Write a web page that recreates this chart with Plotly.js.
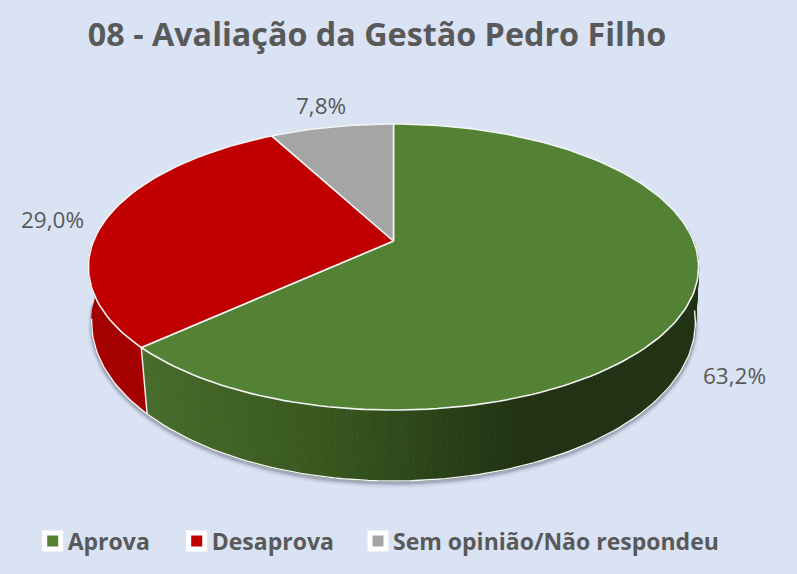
<!DOCTYPE html>
<html><head><meta charset="utf-8">
<script src="https://cdn.plot.ly/plotly-3.0.1.min.js"></script>
<style>html,body{margin:0;padding:0;background:#DAE3F3}</style></head>
<body><div id="chart" style="width:797px;height:574px"></div>
<script>
const categories = ['Aprova', 'Desaprova', 'Sem opinião/Não respondeu'];
const values = [63.2, 29.0, 7.8];
const colors = ['#548235', '#C00000', '#A5A5A5'];
const labelText = values.map(v => v.toFixed(1).replace('.', ',') + '%');

// Perspective disc: the projection of the pie's top and bottom rims
const cx = 393.5;
const topRim = {cy: 241, B: 300, A: 138.3, k: 0.1818};
const lowRim = {cy: 296.8, B: 298, A: 154.7, k: 0.16};
function proj(r, th) {
  const u = Math.sin(th), v = Math.cos(th), d = 1 + r.k * v;
  return [cx + r.B * u / d, r.cy - r.A * v / d];
}
const rad = d => d * Math.PI / 180;
function arc(r, a, b, n, dy) {
  const xs = [], ys = [];
  for (let i = 0; i <= n; i++) {
    const p = proj(r, a + (b - a) * i / n);
    xs.push(p[0]); ys.push(p[1] + (dy || 0));
  }
  return [xs, ys];
}
const total = values.reduce((s, v) => s + v, 0);
let acc = 0;
const bounds = values.map(v => { const a = acc; acc += v / total * 2 * Math.PI; return [a, acc]; });

function hex(c) { return [1, 3, 5].map(i => parseInt(c.substr(i, 2), 16)); }
const wallStops = [[147, '#476C2B'], [330, '#37571F'], [430, '#2C4419'], [520, '#213314'], [800, '#213314']];
function wallColor(x) {
  for (let i = 0; i < wallStops.length - 1; i++) {
    if (x <= wallStops[i + 1][0]) {
      const t = Math.max(0, (x - wallStops[i][0]) / (wallStops[i + 1][0] - wallStops[i][0]));
      const a = hex(wallStops[i][1]), b = hex(wallStops[i + 1][1]);
      return 'rgb(' + a.map((c, j) => Math.round(c + (b[j] - c) * t)).join(',') + ')';
    }
  }
  return '#213314';
}

const traces = [];
// soft shadow under the wall
[[8, .07, 3], [5, .12, 2.5], [3, .22, 2]].forEach(s => {
  const a = arc(lowRim, rad(92), rad(268), 120, s[2]);
  traces.push({x: a[0], y: a[1], mode: 'lines', hoverinfo: 'skip', showlegend: false,
    line: {color: 'rgba(70,75,95,' + s[1] + ')', width: s[0]}});
});
// wall strips, green then red
const wallEnd = rad(277), wallStart = rad(85), split = bounds[0][1];
const N = 160;
for (let i = 0; i < N; i++) {
  const a = wallStart + (split - wallStart) * i / N, b = wallStart + (split - wallStart) * (i + 1) / N;
  const t = arc(topRim, a, b, 1), l = arc(lowRim, b, a, 1);
  const col = wallColor((t[0][1] + l[0][1]) / 2);
  traces.push({x: t[0].concat(l[0]), y: t[1].concat(l[1]), mode: 'lines', fill: 'toself', fillcolor: col,
    line: {color: col, width: 1.2}, hoverinfo: 'skip', showlegend: false});
}
{
  const t = arc(topRim, split, wallEnd, 30), l = arc(lowRim, wallEnd, split, 30);
  traces.push({x: t[0].concat(l[0]), y: t[1].concat(l[1]), mode: 'lines', fill: 'toself', fillcolor: '#A50000',
    line: {color: '#A50000', width: 1}, hoverinfo: 'skip', showlegend: false});
}
// white rim on the lower edge and the divider between the walls
{
  const l = arc(lowRim, rad(95), rad(262), 120);
  traces.push({x: l[0], y: l[1], mode: 'lines', line: {color: '#F4F5F5', width: 1.4}, hoverinfo: 'skip', showlegend: false});
  const p = proj(topRim, split), q = proj(lowRim, split);
  traces.push({x: [p[0], q[0]], y: [p[1], q[1]], mode: 'lines', line: {color: '#F4F5F5', width: 1.4}, hoverinfo: 'skip', showlegend: false});
}
// top face
bounds.forEach((b, i) => {
  const n = Math.max(20, Math.round((b[1] - b[0]) * 40));
  const a = arc(topRim, b[0], b[1], n);
  traces.push({x: [cx].concat(a[0], [cx]), y: [topRim.cy].concat(a[1], [topRim.cy]),
    mode: 'lines', fill: 'toself', fillcolor: colors[i], name: categories[i],
    line: {color: '#F2F4F4', width: 1.6}, hoverinfo: 'name', showlegend: false});
});
// legend entries, one legend each so that the gaps between them can follow the reference
const legendIds = ['legend', 'legend2', 'legend3'];
categories.forEach((c, i) => {
  traces.push({x: [null], y: [null], mode: 'markers', name: c, showlegend: true, legend: legendIds[i],
    marker: {symbol: 'square', size: 16, color: colors[i], line: {color: '#FFFFFF', width: 5}}});
});

const labelX = [734.5, 52.5, 320.5];
const labelY = [375, 219, 105];
const legendX = [27.7, 171.7, 353];
const layout = {
  width: 797, height: 574, margin: {l: 0, r: 0, t: 0, b: 0},
  paper_bgcolor: '#DAE3F3', plot_bgcolor: '#DAE3F3',
  xaxis: {range: [0, 797], visible: false, fixedrange: true},
  yaxis: {range: [574, 0], visible: false, fixedrange: true},
  title: {text: '<b>08 - Avaliação da Gestão Pedro Filho</b>', x: 377 / 797, xanchor: 'center', y: 1 - 35 / 574, yanchor: 'middle',
    font: {family: '"Open Sans", sans-serif', size: 32.3, color: '#595959'}},
  annotations: labelText.map((t, i) => ({x: labelX[i], y: labelY[i], xref: 'x', yref: 'y', text: t, showarrow: false,
    font: {family: '"Open Sans", sans-serif', size: 22.5, color: '#595959'}}))
};
legendIds.forEach((id, i) => {
  layout[id] = {orientation: 'h', x: legendX[i] / 797, xanchor: 'left', y: 1 - 541 / 574, yanchor: 'middle',
    font: {family: '"Open Sans", sans-serif', size: 23, color: '#595959', weight: 700},
    itemwidth: 30, itemsizing: 'trace', bgcolor: 'rgba(0,0,0,0)'};
});
Plotly.newPlot('chart', traces, layout, {staticPlot: true, displayModeBar: false}).then(() => {
  document.querySelectorAll('#chart .legendsymbols').forEach(g => g.setAttribute('transform', 'translate(5,0)'));
});
</script></body></html>
